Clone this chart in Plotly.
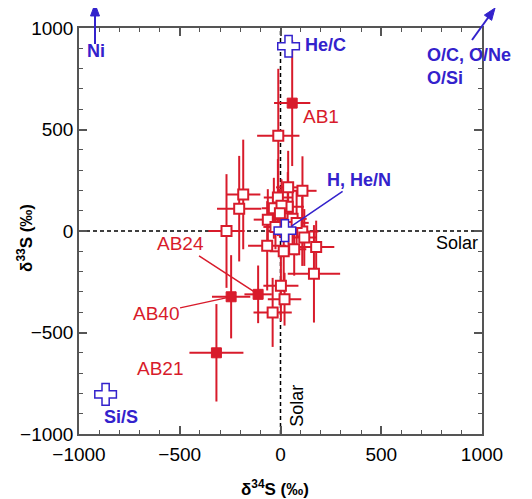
import plotly.graph_objects as go

RED = "#d81b2b"
BLUE = "#3322cc"
FONT = "Arial, Liberation Sans, sans-serif"

# Open squares: d34S, d33S and 1-sigma errors
open_x = [-11, -185, -205, -268, 38, 109, -13, -33, 36, 5, -63, 108, -66, 16, 68, 118, 177, 166, 2, 20, -39, -3, 60, -25, 40, 80]
open_y = [469, 180, 110, 0, 215, 198, 165, 112, 120, 125, 56, -2, -73, -100, -90, -32, -79, -211, -270, -336, -401, 87, 60, 20, 20, 40]
open_xerr = [105, 85, 110, 90, 60, 70, 70, 60, 80, 50, 70, 80, 95, 70, 60, 60, 90, 130, 87, 83, 95, 60, 70, 60, 50, 60]
open_yerr = [330, 270, 260, 280, 180, 170, 190, 150, 170, 130, 150, 170, 220, 200, 130, 140, 130, 240, 175, 130, 170, 120, 140, 110, 100, 160]

# Filled squares (labelled grains)
grain_names = ["AB1", "AB24", "AB40", "AB21"]
filled_x = [58, -111, -245, -318]
filled_y = [630, -312, -324, -600]
filled_xerr = [90, 68, 95, 134]
filled_yerr = [310, 142, 205, 240]

# Supernova zone compositions (crosses)
zone_names = ["He/C", "H, He/N", "Si/S"]
zone_x = [40, 22, -868]
zone_y = [910, 2, -805]

fig = go.Figure()

fig.add_trace(go.Scatter(
    x=open_x, y=open_y, mode="markers",
    error_x=dict(type="data", array=open_xerr, color=RED, thickness=2, width=0),
    error_y=dict(type="data", array=open_yerr, color=RED, thickness=2, width=0),
    marker=dict(symbol="square", size=10, color="white", line=dict(color=RED, width=2)),
    showlegend=False))

fig.add_trace(go.Scatter(
    x=filled_x, y=filled_y, mode="markers",
    error_x=dict(type="data", array=filled_xerr, color=RED, thickness=2, width=0),
    error_y=dict(type="data", array=filled_yerr, color=RED, thickness=2, width=0),
    marker=dict(symbol="square", size=10, color=RED, line=dict(color=RED, width=1)),
    showlegend=False))

fig.add_trace(go.Scatter(
    x=zone_x, y=zone_y, mode="markers",
    marker=dict(symbol="cross", size=18, color="white", line=dict(color=BLUE, width=1.5)),
    showlegend=False))

# dashed solar lines
fig.add_shape(type="line", x0=-1000, x1=1000, y0=0, y1=0, xref="x", yref="y",
              line=dict(color="black", width=1.5, dash="4px,3px"), layer="below")
fig.add_shape(type="line", x0=0, x1=0, y0=-1000, y1=1000, xref="x", yref="y",
              line=dict(color="black", width=1.5, dash="4px,3px"), layer="below")

# off-scale arrows (Ni upward, O/C, O/Ne, O/Si up-right), in paper units
fig.add_shape(type="line", xref="paper", yref="paper", x0=0.0397, x1=0.0397, y0=0.9606, y1=1.0345,
              line=dict(color=BLUE, width=2))
fig.add_shape(type="path", xref="paper", yref="paper",
              path="M 0.0397 1.0591 L 0.02854 1.0296 L 0.05087 1.0296 Z",
              fillcolor=BLUE, line=dict(color=BLUE, width=1))
fig.add_shape(type="line", xref="paper", yref="paper", x0=0.97519, x1=1.01985, y0=0.97044, y1=1.03202,
              line=dict(color=BLUE, width=2))
fig.add_shape(type="path", xref="paper", yref="paper",
              path="M 1.0323 1.04926 L 1.02395 1.01879 L 1.00583 1.03175 Z",
              fillcolor=BLUE, line=dict(color=BLUE, width=1))

ann = []
def txt(x, y, t, color, size=19, bold=False, xanchor="center", angle=0):
    ann.append(dict(x=x, y=y, xref="x", yref="y", text=(f"<b>{t}</b>" if bold else t),
                    showarrow=False, xanchor=xanchor, yanchor="middle", textangle=angle,
                    font=dict(family=FONT, size=size, color=color)))

txt(878, -59, "Solar", "black", 18)
txt(84, -859, "Solar", "black", 18, angle=-90)
txt(203, 563, grain_names[0], RED)
txt(-596, -677, grain_names[3], RED)
txt(-918, 889, "Ni", BLUE, 18, True)
txt(223, 918, zone_names[0], BLUE, 18, True)
txt(715, 869, "O/C, O/Ne", BLUE, 18, True, xanchor="left")
txt(715, 756, "O/Si", BLUE, 18, True, xanchor="left")
txt(-794, -914, zone_names[2], BLUE, 18, True)

# labels with leader lines
ann.append(dict(x=filled_x[1], y=filled_y[1], xref="x", yref="y", axref="x", ayref="y",
                ax=-496, ay=-64, text=grain_names[1], showarrow=True, arrowhead=0,
                arrowwidth=1.5, arrowcolor=RED, standoff=4,
                font=dict(family=FONT, size=19, color=RED)))
ann.append(dict(x=filled_x[2], y=filled_y[2], xref="x", yref="y", axref="x", ayref="y",
                ax=-620, ay=-405, text=grain_names[2], showarrow=True, arrowhead=0,
                arrowwidth=1.5, arrowcolor=RED, standoff=4,
                font=dict(family=FONT, size=19, color=RED)))
ann.append(dict(x=zone_x[1], y=zone_y[1], xref="x", yref="y", axref="x", ayref="y",
                ax=392, ay=252, text="<b>" + zone_names[1] + "</b>", showarrow=True, arrowhead=0,
                arrowwidth=1.5, arrowcolor=BLUE, standoff=8,
                font=dict(family=FONT, size=18, color=BLUE)))

# axis titles
ann.append(dict(x=0.486, y=-0.133, xref="paper", yref="paper", showarrow=False,
                text="<b>δ<sup>34</sup>S (‰)</b>", xanchor="center", yanchor="middle",
                font=dict(family=FONT, size=17, color="black")))
ann.append(dict(x=-0.134, y=0.483, xref="paper", yref="paper", showarrow=False,
                text="<b>δ<sup>33</sup>S (‰)</b>", xanchor="center", yanchor="middle",
                textangle=-90, font=dict(family=FONT, size=17, color="black")))

axis_common = dict(
    range=[-1000, 1000], dtick=500, tick0=0, showgrid=False, zeroline=False,
    showline=True, linecolor="#555", linewidth=1.5, mirror="ticks",
    ticks="inside", ticklen=8, tickwidth=1.5, tickcolor="#555",
    minor=dict(ticks="inside", dtick=100, ticklen=4, tickwidth=1, tickcolor="#555"),
    tickfont=dict(family=FONT, size=19, color="black"),
    automargin=False,
)

# page body has an 8px default margin, so the figure is 8px smaller
fig.update_layout(
    width=524, height=491,
    margin=dict(l=71, r=50, t=20, b=65),
    paper_bgcolor="white", plot_bgcolor="white",
    xaxis=dict(**axis_common, ticklabelstandoff=2),
    yaxis=dict(**axis_common, ticklabelstandoff=0),
    annotations=ann,
    showlegend=False,
)

fig.write_html("out.html")
